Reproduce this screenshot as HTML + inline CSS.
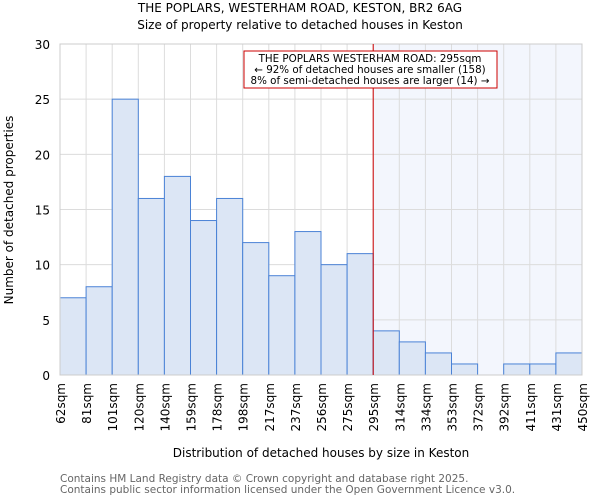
<!DOCTYPE html>
<html><head><meta charset="utf-8"><style>
body{margin:0;background:#fff;font-family:"DejaVu Sans","Liberation Sans",sans-serif}
svg text{font-family:"DejaVu Sans","Liberation Sans",sans-serif}
</style></head><body>
<svg id="chart" width="600" height="500" viewBox="0 0 600 500" xmlns="http://www.w3.org/2000/svg">
<text x="300" y="12" font-size="12" text-anchor="middle">THE POPLARS, WESTERHAM ROAD, KESTON, BR2 6AG</text>
<text x="300" y="29" font-size="12" text-anchor="middle">Size of property relative to detached houses in Keston</text>
<g id="grid"></g><g id="bars"></g><g id="axes"></g>
<text x="321" y="457" font-size="12" text-anchor="middle">Distribution of detached houses by size in Keston</text>
<text transform="translate(13,210) rotate(-90)" font-size="12" text-anchor="middle">Number of detached properties</text>
<text x="60" y="482" font-size="10.5" fill="#666">Contains HM Land Registry data © Crown copyright and database right 2025.</text>
<text x="60" y="493" font-size="10.5" fill="#666">Contains public sector information licensed under the Open Government Licence v3.0.</text>
</svg>
<script>
const categories=["62sqm","81sqm","101sqm","120sqm","140sqm","159sqm","178sqm","198sqm","217sqm","237sqm","256sqm","275sqm","295sqm","314sqm","334sqm","353sqm","372sqm","392sqm","411sqm","431sqm","450sqm"];
const counts=[7,8,25,16,18,14,16,12,9,13,10,11,4,3,2,1,0,1,1,2];
const yTicks=[0,5,10,15,20,25,30];
const markerIndex=12;
const annotationLines=["THE POPLARS WESTERHAM ROAD: 295sqm","← 92% of detached houses are smaller (158)","8% of semi-detached houses are larger (14) →"];
const NS="http://www.w3.org/2000/svg";
const L=60,R=582,T=44,B=375,yMax=30;
const nb=counts.length;
function x(i){return L+(R-L)*i/nb;}
function y(v){return B-(B-T)*v/yMax;}
function mk(tag,attrs,parent){const e=document.createElementNS(NS,tag);for(const k in attrs)e.setAttribute(k,attrs[k]);parent.appendChild(e);return e;}
const grid=document.getElementById('grid'),bars=document.getElementById('bars'),axes=document.getElementById('axes');
const shade=mk('rect',{x:x(markerIndex),y:T,width:R-x(markerIndex),height:B-T,fill:'#f3f6fd'},grid);


yTicks.forEach(t=>{const l=mk('line',{x1:L,x2:R,y1:y(t),y2:y(t),stroke:'#dcdcdc'},grid);


const tx=mk('text',{x:L-10,y:y(t)+5,'font-size':12,'text-anchor':'end'},axes);tx.textContent=t;

});
categories.forEach((c,i)=>{const l=mk('line',{x1:x(i),x2:x(i),y1:T,y2:B,stroke:'#dcdcdc'},grid);


const tx=mk('text',{transform:`translate(${x(i)+5},${B+8}) rotate(-90)`,'font-size':12,'text-anchor':'end'},axes);tx.textContent=c;

});
counts.forEach((v,i)=>{if(v<=0)return;const r=mk('rect',{x:x(i),y:y(v),width:x(i+1)-x(i),height:B-y(v),fill:'#dce6f5',stroke:'#4a82d6','stroke-width':1},bars);

});
const fr=mk('rect',{x:L,y:T,width:R-L,height:B-T,fill:'none',stroke:'#ccc'},axes);


const ml=mk('line',{x1:x(markerIndex),x2:x(markerIndex),y1:T,y2:B,stroke:'#cc0000','stroke-width':1},axes);


const box=mk('rect',{x:244,y:51,width:253,height:37,fill:'#fff',stroke:'#cc0000'},axes);


annotationLines.forEach((s,i)=>{const t=mk('text',{x:370,y:62+i*11,'font-size':10.3,'text-anchor':'middle'},axes);t.textContent=s;

});
</script>
</body></html>
